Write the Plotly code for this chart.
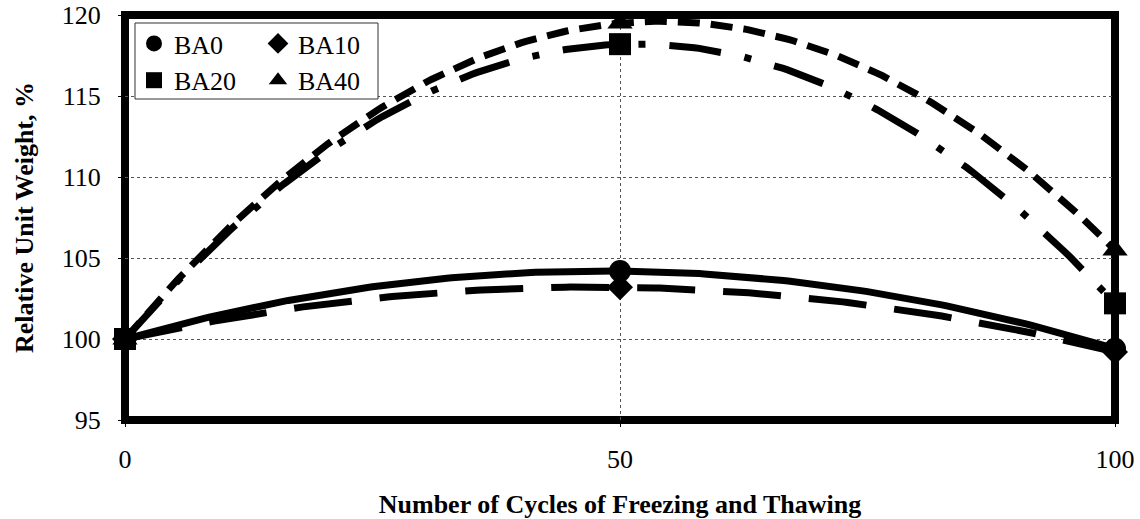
import numpy as np
import plotly.graph_objects as go

# Data
cycles = [0, 50, 100]
series_names = ["BA0", "BA10", "BA20", "BA40"]
ba0 = [100.0, 104.2, 99.4]
ba10 = [100.0, 103.2, 99.2]
ba20 = [100.0, 118.2, 102.2]
ba40 = [100.0, 119.5, 105.5]
x_ticks = [0, 50, 100]
y_ticks = [95, 100, 105, 110, 115, 120]

values = {"BA0": ba0, "BA10": ba10, "BA20": ba20, "BA40": ba40}
symbols = {"BA0": "circle", "BA10": "diamond", "BA20": "square", "BA40": "triangle-up"}
msizes = {"BA0": 22, "BA10": 20, "BA20": 22, "BA40": 22}
dashes = {"BA0": "solid", "BA10": "58px,28px", "BA20": "52px,24px,7px,24px", "BA40": "22px,11px"}
legend_of = {"BA0": "legend", "BA20": "legend", "BA10": "legend2", "BA40": "legend2"}

FONT = "Liberation Serif"
FS = 26

fig = go.Figure()

xs = np.linspace(0, 100, 201)
for name in series_names:
    coef = np.polyfit(cycles, values[name], 2)
    fig.add_trace(go.Scatter(
        x=xs, y=np.polyval(coef, xs), mode="lines",
        line=dict(color="black", width=7, dash=dashes[name]),
        showlegend=False, hoverinfo="skip", cliponaxis=False))

for name in series_names:
    fig.add_trace(go.Scatter(
        x=cycles, y=values[name], mode="markers", name=name,
        marker=dict(symbol=symbols[name], size=msizes[name], color="black",
                    line=dict(width=0)),
        legend=legend_of[name], cliponaxis=False))

px_w, px_h = 990.0, 405.0
def px2x(p):
    return (p - 125) / px_w
def py2y(p):
    return 1 - (p - 15) / px_h

leg_common = dict(font=dict(family=FONT, size=FS, color="black"),
                  bgcolor="rgba(0,0,0,0)", borderwidth=0,
                  xanchor="left", yanchor="top", itemsizing="trace",
                  tracegroupgap=0)

fig.update_layout(
    width=1140, height=519,
    margin=dict(l=125, r=25, t=15, b=99, pad=0, autoexpand=False),
    paper_bgcolor="white", plot_bgcolor="white",
    font=dict(family=FONT, size=FS, color="black"),
    legend=dict(x=px2x(134), y=py2y(20), **leg_common),
    legend2=dict(x=px2x(258), y=py2y(20), **leg_common),
    xaxis=dict(range=[0, 100], tickvals=x_ticks, ticks="outside", ticklen=6,
               tickcolor="black", tickwidth=1, showgrid=True,
               gridcolor="#555555", griddash="dot", gridwidth=1,
               zeroline=False, showline=False, ticklabelstandoff=10,
               ticklabeloverflow="allow", automargin=False,
               tickfont=dict(family=FONT, size=FS, color="black"),
               title=dict(text="<b>Number of Cycles of Freezing and Thawing</b>",
                          font=dict(family=FONT, size=FS, color="black"),
                          standoff=24)),
    yaxis=dict(range=[95, 120], tickvals=y_ticks, ticks="outside", ticklen=6,
               tickcolor="black", tickwidth=1, showgrid=True,
               gridcolor="#555555", griddash="dot", gridwidth=1,
               zeroline=False, showline=False, ticklabelstandoff=12,
               ticklabeloverflow="allow", automargin=False,
               tickfont=dict(family=FONT, size=FS, color="black"),
               title=dict(text="<b>Relative Unit Weight, %</b>",
                          font=dict(family=FONT, size=FS, color="black"),
                          standoff=20)),
    shapes=[
        dict(type="rect", xref="paper", yref="paper", x0=0, x1=1, y0=0, y1=1,
             line=dict(color="black", width=8), layer="below"),
        dict(type="rect", xref="paper", yref="paper",
             x0=px2x(135), x1=px2x(378), y0=py2y(99), y1=py2y(23),
             line=dict(color="#333333", width=1), fillcolor="white", layer="above"),
    ],
)

fig.write_html("out.html", config={"displayModeBar": False},
               post_script="document.body.style.margin='0';document.body.style.overflow='hidden';")
